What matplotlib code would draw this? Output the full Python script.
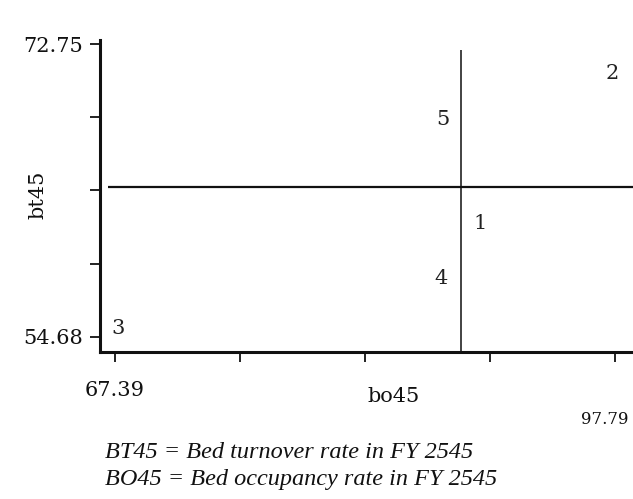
import matplotlib
matplotlib.use("Agg")
import matplotlib.pyplot as plt

# ---- data ----
x_name = "bo45"
y_name = "bt45"
x_range = [67.39, 97.79]
y_range = [54.68, 72.75]
split_bo45 = 88.42          # vertical split
split_bt45 = 63.90          # horizontal split
vsplit_top = 72.38
hsplit_left = 66.96
region_labels = ["1", "2", "3", "4", "5"]
region_x = [89.6, 97.6, 67.6, 87.2, 87.3]
region_y = [61.7, 70.9, 55.2, 58.3, 68.1]
caption = ["BT45 = Bed turnover rate in FY 2545",
           "BO45 = Bed occupancy rate in FY 2545"]

W, H = 633, 499
fig = plt.figure(figsize=(W / 100, H / 100), dpi=100)
fig.patch.set_facecolor("white")

left, bottom, top = 100 / W, 1 - 352 / H, 1 - 40 / H
ax = fig.add_axes([left, bottom, 1 - left, top - bottom])

xs = 16.45  # px per unit
ys = 16.2
ax.set_xlim(x_range[0] - 15 / xs, x_range[1] + 18 / xs)
ax.set_ylim(y_range[0] - 15 / ys, y_range[1] + 4 / ys)

for s in ["top", "right"]:
    ax.spines[s].set_visible(False)
for s in ["left", "bottom"]:
    ax.spines[s].set_linewidth(2.2)
    ax.spines[s].set_color("#111111")

n = 5
xt = [x_range[0] + i * (x_range[1] - x_range[0]) / (n - 1) for i in range(n)]
yt = [y_range[0] + i * (y_range[1] - y_range[0]) / (n - 1) for i in range(n)]
ax.set_xticks(xt)
ax.set_xticklabels([f"{x_range[0]:.2f}", "", "", "", ""])
ax.set_yticks(yt)
ax.set_yticklabels([f"{y_range[0]:.2f}", "", "", "", f"{y_range[1]:.2f}"])
ax.tick_params(axis="both", direction="out", length=7, width=1.3,
               labelsize=15, colors="#111111", pad=5)
ax.tick_params(axis="x", pad=14)
for lab in ax.get_xticklabels() + ax.get_yticklabels():
    lab.set_family("DejaVu Serif")

# right-end x tick label (squeezed at page edge in the reference)
fig.text(629 / W, 1 - 420 / H, f"{x_range[1]:.2f}", ha="right", va="center",
         fontsize=12, family="DejaVu Serif", color="#111111")

# splits
ax.plot([split_bo45, split_bo45], [ax.get_ylim()[0], vsplit_top],
        color="#222222", lw=1.2, solid_capstyle="butt")
ax.plot([hsplit_left, ax.get_xlim()[1]], [split_bt45, split_bt45],
        color="#111111", lw=1.6, solid_capstyle="butt")

for lab, x, y in zip(region_labels, region_x, region_y):
    ax.text(x, y, lab, ha="center", va="center", fontsize=15,
            family="DejaVu Serif", color="#222222")

fig.text(38 / W, 1 - 195 / H, y_name, rotation=90, ha="center", va="center",
         fontsize=15, family="DejaVu Serif", color="#111111")
fig.text(394 / W, 1 - 396 / H, x_name, ha="center", va="center",
         fontsize=15, family="DejaVu Serif", color="#111111")

fig.text(105 / W, 1 - 453 / H, caption[0], ha="left", va="center",
         fontsize=17.5, family="Liberation Serif", style="italic", color="#111111")
fig.text(105 / W, 1 - 480 / H, caption[1], ha="left", va="center",
         fontsize=17.5, family="Liberation Serif", style="italic", color="#111111")

fig.savefig("out.png", dpi=100)
